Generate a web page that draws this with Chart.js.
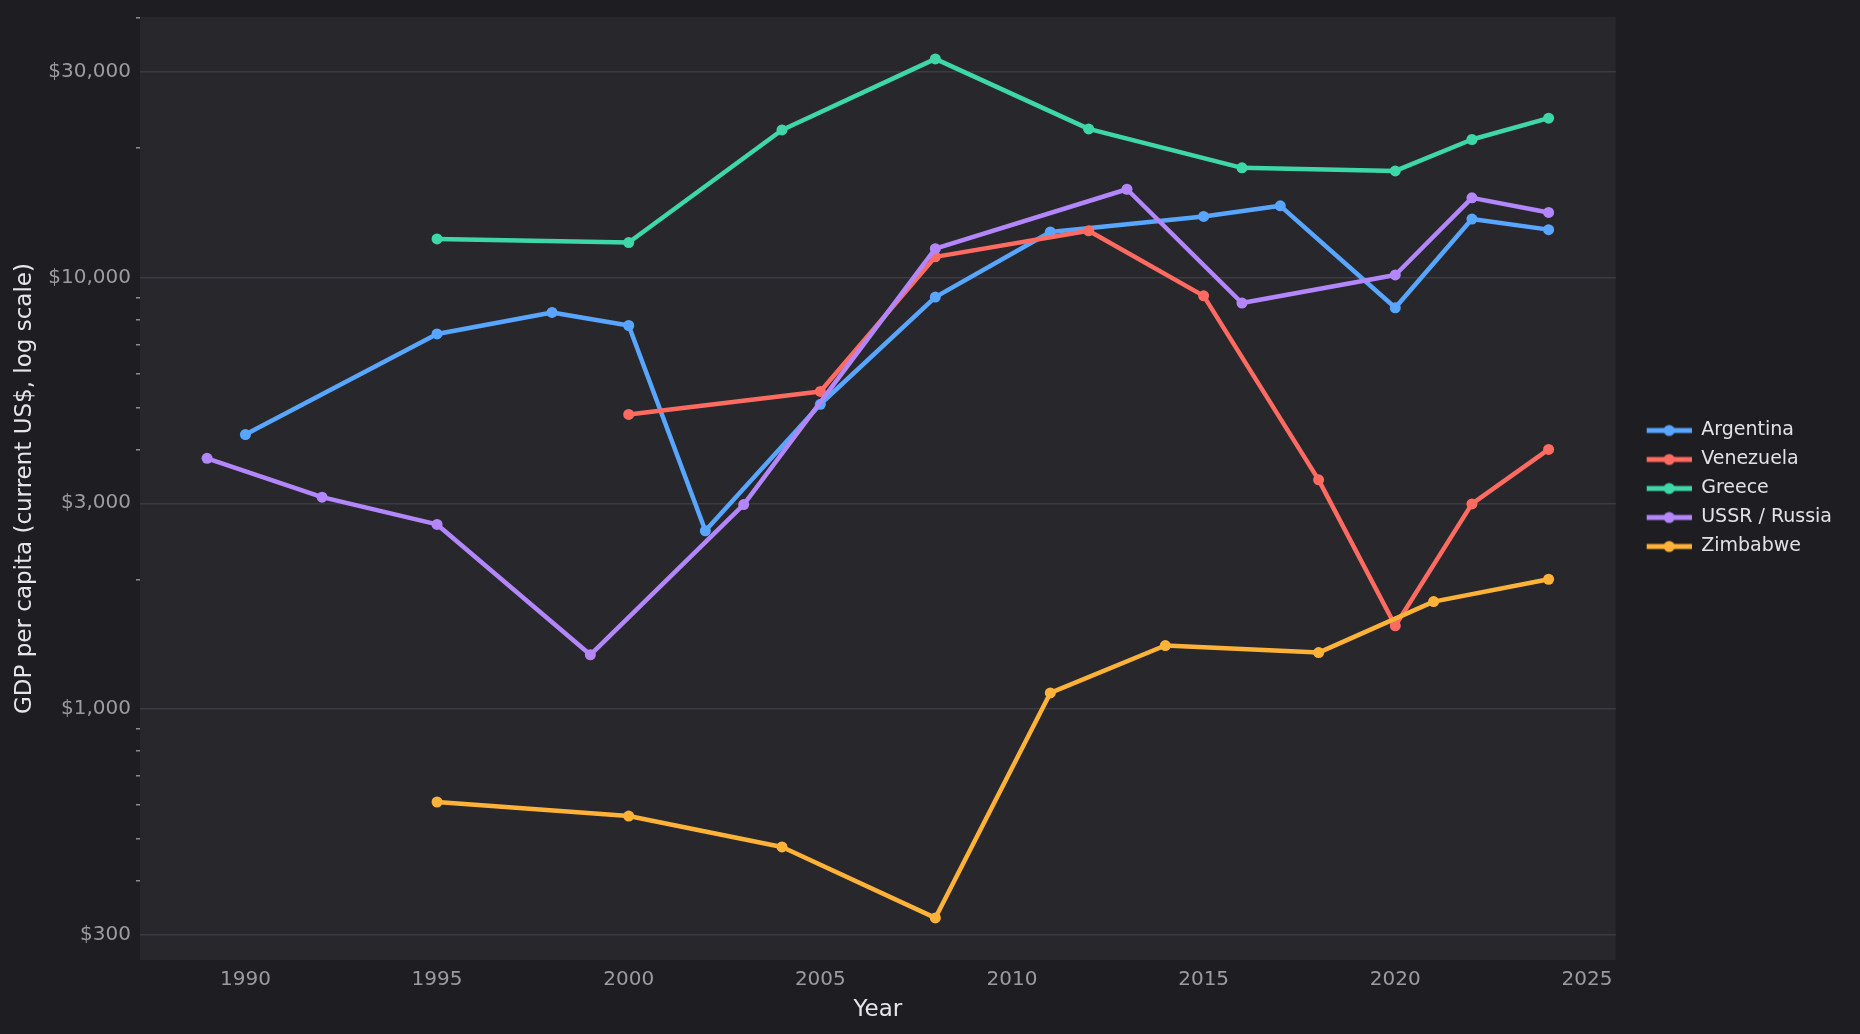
<!DOCTYPE html>
<html>
<head>
<meta charset="utf-8">
<title>GDP per capita</title>
<script src="https://cdn.jsdelivr.net/npm/chart.js@4.4.1/dist/chart.umd.min.js"></script>
<style>
  html, body { margin: 0; padding: 0; background: #1e1e22; }
  #wrap { width: 1860px; height: 1034px; }
</style>
</head>
<body>
<div id="wrap"><canvas id="gdpChart" width="1860" height="1034"></canvas></div>
<script>
// GDP per capita, current US$
var countries = ['Argentina', 'Venezuela', 'Greece', 'USSR / Russia', 'Zimbabwe'];
var lineColors = ['#58a6ff', '#ff6b61', '#3ed8a8', '#b387fb', '#ffb238'];

var argentinaYears = [1990, 1995, 1998, 2000, 2002, 2005, 2008, 2011, 2015, 2017, 2020, 2022, 2024];
var argentinaGdp = [4330, 7410, 8310, 7750, 2590, 5090, 9020, 12770, 13870, 14680, 8520, 13680, 12930];

var venezuelaYears = [2000, 2005, 2008, 2012, 2015, 2018, 2020, 2022, 2024];
var venezuelaGdp = [4820, 5450, 11180, 12850, 9080, 3400, 1560, 2990, 4000];

var greeceYears = [1995, 2000, 2004, 2008, 2012, 2016, 2020, 2022, 2024];
var greeceGdp = [12300, 12070, 22010, 32170, 22140, 17980, 17690, 20920, 23440];

var russiaYears = [1989, 1992, 1995, 1999, 2003, 2008, 2013, 2016, 2020, 2022, 2024];
var russiaGdp = [3815, 3100, 2680, 1336, 2980, 11680, 16040, 8740, 10150, 15320, 14170];

var zimbabweYears = [1995, 2000, 2004, 2008, 2011, 2014, 2018, 2021, 2024];
var zimbabweGdp = [609, 565, 479, 328, 1090, 1404, 1352, 1775, 2000];

var xTicks = [1990, 1995, 2000, 2005, 2010, 2015, 2020, 2025];
var yMajorTicks = [300, 1000, 3000, 10000, 30000];
var yMinorTicks = [400, 500, 600, 700, 800, 900, 2000, 4000, 5000, 6000, 7000, 8000, 9000, 20000, 40000];

var allYears = [argentinaYears, venezuelaYears, greeceYears, russiaYears, zimbabweYears];
var allGdp = [argentinaGdp, venezuelaGdp, greeceGdp, russiaGdp, zimbabweGdp];

Chart.defaults.font.family = "'DejaVu Sans', sans-serif";

function toPoints(years, values) {
    return years.map(function (yr, i) { return { x: yr, y: values[i] }; });
}

// legend marker: a short line with a dot in the middle
function legendMarker(color) {
    var c = document.createElement('canvas');
    c.width = 66;
    c.height = 14;
    var g = c.getContext('2d');
    g.strokeStyle = color;
    g.lineWidth = 5;
    g.beginPath();
    g.moveTo(21, 7);
    g.lineTo(66, 7);
    g.stroke();
    g.fillStyle = color;
    g.beginPath();
    g.arc(43.5, 7, 5.5, 0, Math.PI * 2);
    g.fill();
    return c;
}

var markers = lineColors.map(legendMarker);

var datasets = countries.map(function (name, i) {
    return {
        label: name,
        data: toPoints(allYears[i], allGdp[i]),
        borderColor: lineColors[i],
        backgroundColor: lineColors[i],
        pointBackgroundColor: lineColors[i],
        borderWidth: 4.5,
        pointRadius: 5.5,
        pointBorderWidth: 0,
        tension: 0,
        borderJoinStyle: 'round',
        borderCapStyle: 'round',
        order: countries.length - i
    };
});

var plotBackground = {
    id: 'plotBackground',
    beforeDraw: function (chart) {
        var ctx = chart.ctx, a = chart.chartArea;
        ctx.save();
        ctx.fillStyle = '#1e1e22';
        ctx.fillRect(0, 0, chart.width, chart.height);
        ctx.fillStyle = '#27272c';
        ctx.fillRect(a.left, a.top, a.right - a.left, a.bottom - a.top);
        ctx.restore();
    }
};

// keep the legend centred on the plot area, not on the whole canvas
var legendBesidePlot = {
    id: 'legendBesidePlot',
    afterLayout: function (chart) {
        var lg = chart.legend;
        if (!lg) return;
        lg.top = chart.chartArea.top;
        lg.bottom = chart.chartArea.bottom;
        lg.height = lg.bottom - lg.top;
    }
};

function isMajor(v) {
    return yMajorTicks.indexOf(v) !== -1;
}

new Chart(document.getElementById('gdpChart'), {
    type: 'line',
    data: { datasets: datasets },
    plugins: [plotBackground, legendBesidePlot],
    options: {
        responsive: false,
        animation: false,
        events: [],
        layout: { padding: { top: 15, right: 18, bottom: 0, left: 0 } },
        plugins: {
            tooltip: { enabled: false },
            legend: {
                position: 'right',
                align: 'center',
                labels: {
                    color: '#e2e2e6',
                    font: { size: 19 },
                    padding: 10,
                    usePointStyle: true,
                    pointStyleWidth: 66,
                    boxHeight: 14,
                    generateLabels: function (chart) {
                        var items = Chart.defaults.plugins.legend.labels.generateLabels(chart);
                        items.forEach(function (it) { it.pointStyle = markers[it.datasetIndex]; });
                        return items.sort(function (a, b) { return a.datasetIndex - b.datasetIndex; });
                    }
                }
            }
        },
        scales: {
            x: {
                type: 'linear',
                min: 1987.25,
                max: 2025.75,
                border: { display: false },
                grid: { display: false, drawTicks: false },
                afterBuildTicks: function (scale) {
                    scale.ticks = xTicks.map(function (v) { return { value: v }; });
                },
                afterFit: function (scale) { scale.height = 74; },
                ticks: {
                    color: '#9b9ba0',
                    font: { size: 20 },
                    padding: 8,
                    maxRotation: 0,
                    autoSkip: false,
                    callback: function (v) { return String(v); }
                },
                title: {
                    display: true,
                    text: 'Year',
                    color: '#e6e6ea',
                    font: { size: 23 },
                    padding: { top: 0, bottom: 10 }
                }
            },
            y: {
                type: 'logarithmic',
                min: 262,
                max: 40230,
                border: { display: false },
                grid: {
                    lineWidth: 1.5,
                    tickLength: 4,
                    color: function (c) { return c.tick && isMajor(c.tick.value) ? '#3b3b41' : 'rgba(0,0,0,0)'; },
                    tickColor: function (c) { return c.tick && isMajor(c.tick.value) ? 'rgba(0,0,0,0)' : '#8a8a90'; }
                },
                afterBuildTicks: function (scale) {
                    var vals = yMajorTicks.concat(yMinorTicks).sort(function (a, b) { return a - b; });
                    scale.ticks = vals.map(function (v) { return { value: v }; });
                },
                afterFit: function (scale) { scale.width = 140; },
                ticks: {
                    color: '#9b9ba0',
                    font: { size: 20 },
                    padding: 5,
                    autoSkip: false,
                    callback: function (v) {
                        return isMajor(v) ? '$' + v.toLocaleString('en-US') : '';
                    }
                },
                title: {
                    display: true,
                    text: 'GDP per capita (current US$, log scale)',
                    color: '#e6e6ea',
                    font: { size: 23 },
                    padding: { top: 11, bottom: 0 }
                }
            }
        }
    }
});
</script>
</body>
</html>
